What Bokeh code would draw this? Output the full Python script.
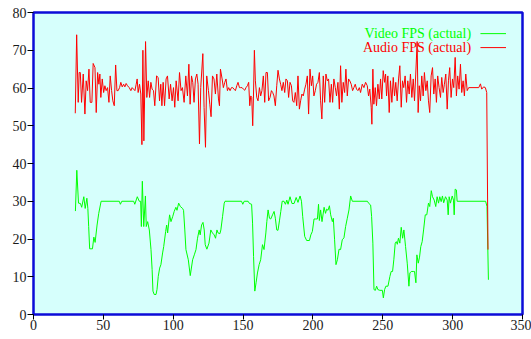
from bokeh.plotting import figure
from bokeh.models import Range1d, Label
from bokeh.embed import file_html
from bokeh.resources import INLINE

# ---- data ----
video_t = [30.0, 31.0, 32.2, 33.6, 34.5, 36.0, 37.0, 38.2, 38.9, 39.5, 40.2, 42.2, 43.2, 44.1, 45.5, 46.7, 48.4,
           61.4, 62.2, 63.2, 71.7, 72.5, 74.3, 75.7, 76.7, 77.2, 77.9, 78.9, 80.1, 80.7, 81.7, 82.9, 84.1, 84.9,
           85.5, 86.4, 87.7, 88.4, 89.3, 90.3, 91.2, 92.4, 93.2, 94.6, 95.3, 96.0, 97.4, 98.4, 99.6, 100.7, 101.9,
           102.7, 103.9, 105.1, 106.7, 107.4, 108.3, 109.1, 110.8, 112.2, 113.9, 115.1, 116.3, 117.4, 118.6, 119.3,
           120.3, 121.3, 122.2, 122.9, 124.1, 125.6, 126.9, 128.1, 129.3, 130.3, 131.3, 132.1, 133.4, 134.1, 135.3,
           136.5, 137.1, 148.9, 149.8, 150.8, 153.6, 154.6, 156.1, 156.8, 157.5, 158.4, 159.3, 160.3, 161.5, 162.6,
           163.9, 165.0, 166.3, 167.0, 167.9, 168.9, 169.8, 171.1, 172.2, 173.1, 174.1, 175.0, 176.1, 177.0, 178.0,
           179.3, 180.3, 181.3, 182.2, 183.6, 185.0, 186.5, 188.0, 189.3, 190.8, 191.8, 192.7, 194.1, 195.5, 197.5,
           198.5, 199.6, 200.8, 202.0, 203.2, 204.0, 204.6, 205.5, 206.5, 208.0, 209.0, 209.8, 210.8, 211.8, 212.7,
           213.9, 214.6, 215.5, 216.5, 217.5, 218.7, 219.8, 221.0, 222.2, 223.4, 224.6, 225.8, 227.0, 228.2, 239.0,
           240.0, 241.3, 242.0, 242.9, 243.7, 244.7, 245.6, 246.5, 247.9, 249.7, 250.4, 251.3, 252.2, 253.7, 255.1,
           256.0, 257.0, 257.9, 258.9, 259.7, 260.4, 261.2, 262.2, 263.2, 264.2, 265.1, 266.3, 267.5, 268.7, 269.4,
           270.4, 271.8, 272.7, 273.7, 274.4, 275.4, 276.3, 277.2, 278.2, 279.2, 280.4, 281.5, 282.7, 283.6, 284.7,
           285.6, 286.8, 287.9, 288.9, 289.9, 290.8, 291.8, 292.7, 293.6, 294.9, 296.1, 296.8, 297.5, 298.4, 299.7,
           300.6, 301.1, 301.8, 302.7, 303.2, 323.6, 324.6, 325.6]
video_fps = [27.4, 38.2, 29.5, 29.4, 28.4, 31.2, 28.1, 30.8, 28.1, 23.3, 17.4, 17.4, 20.5, 19.1, 23.7, 26.8, 30.0,
             30.0, 29.2, 30.0, 30.0, 29.2, 31.2, 30.0, 30.0, 23.3, 35.3, 23.3, 31.4, 23.3, 24.6, 22.4, 17.2, 11.9,
             6.2, 5.3, 5.3, 6.6, 10.1, 12.3, 13.2, 16.3, 18.0, 22.0, 23.7, 21.6, 26.4, 24.6, 25.9, 27.3, 28.4,
             27.6, 29.5, 28.6, 28.1, 27.6, 22.4, 17.2, 14.5, 10.3, 14.5, 15.8, 17.2, 20.2, 22.4, 21.1,
             23.7, 24.4, 22.4, 18.5, 17.3, 18.9, 22.4, 21.6, 21.1, 20.2, 22.4, 21.6, 21.4, 22.4, 25.9,
             29.5, 30.0, 30.0, 29.2, 30.0, 30.0, 29.4, 29.2, 24.2, 15.4, 6.2, 8.4, 11.0, 13.2, 14.5,
             18.5, 17.2, 21.6, 24.6, 27.7, 25.5, 25.3, 26.4, 27.3, 25.5, 22.4, 22.3, 25.0, 27.3, 30.0,
             30.0, 29.2, 30.3, 29.2, 31.2, 29.4, 29.4, 31.0, 29.7, 31.4, 30.0, 25.9, 20.7, 19.6, 19.6,
             21.1, 22.0, 25.3, 25.3, 25.3, 29.2, 24.9, 27.7, 24.6, 28.4, 26.8, 27.9, 27.6, 28.8, 26.4,
             24.6, 25.5, 19.8, 13.2, 14.5, 17.3, 17.2, 19.8, 20.3, 23.3, 25.5, 27.7, 31.4, 30.0, 30.0,
             29.4, 29.0, 26.0, 18.9, 6.6, 6.4, 7.5, 6.6, 6.4, 6.4, 4.4, 6.6, 7.5, 7.5, 10.1,
             11.4, 11.4, 14.5, 18.9, 19.3, 18.6, 20.2, 18.9, 23.1, 20.2, 22.4, 18.0, 13.6, 7.5, 11.0,
             11.4, 11.4, 11.4, 8.4, 15.8, 13.6, 15.2, 18.0, 19.3, 22.4, 26.4, 26.4, 29.5, 28.6, 32.8,
             31.2, 30.3, 28.6, 31.2, 29.5, 31.2, 29.9, 31.4, 29.6, 31.2, 30.3, 26.4, 31.2, 29.5, 31.4,
             30.3, 26.4, 33.2, 33.0, 30.0, 30.0, 28.6, 9.2]

audio_t = [29.9, 30.9, 32.0, 32.7, 33.5, 34.4, 35.6, 36.8, 37.7, 38.7, 39.7, 40.6, 41.8, 42.7, 44.0, 44.9, 45.9,
           46.8, 47.5, 48.2, 49.2, 50.2, 51.1, 52.0, 53.0, 54.0, 54.9, 55.9, 56.8, 57.8, 58.8, 59.7, 60.6, 61.6,
           62.5, 63.5, 64.5, 65.4, 66.3, 67.3, 68.5, 69.7, 70.6, 71.6, 72.6, 73.5, 74.2, 74.9, 75.9, 76.8, 77.6,
           78.3, 79.0, 80.2, 81.1, 82.1, 83.1, 84.0, 84.9, 85.9, 86.8, 88.1, 89.2, 90.2, 91.1, 91.9, 92.8, 93.8,
           94.9, 95.9, 97.1, 98.1, 99.2, 100.2, 101.1, 102.1, 103.5, 104.5,
           105.6, 106.6, 107.8, 109.0, 110.2, 111.2, 112.1, 113.1, 114.0, 114.9, 115.9, 116.9, 117.8, 118.8, 119.7,
           121.2, 122.1, 123.1, 124.0, 125.2, 126.2, 127.1, 128.1, 129.2, 130.2, 131.2, 132.4, 133.1, 133.8, 135.0,
           135.9, 136.9, 137.8, 138.8, 139.7, 140.7, 141.7, 142.6, 143.5, 144.5, 145.5, 146.4, 147.4, 148.3, 149.3,
           150.2, 151.2, 152.1, 153.1, 154.0, 154.8, 155.5, 156.2, 156.9, 157.4, 158.1, 158.8, 159.8, 160.7, 161.7,
           162.6, 163.5, 164.5, 165.5, 166.4, 167.4, 168.3, 169.3, 170.3, 171.2, 172.1, 173.1, 174.1, 175.0, 176.0,
           176.9, 177.8, 178.8, 179.8, 180.7, 181.7, 182.6, 183.6, 184.6, 185.5, 186.4, 187.4, 188.4, 189.3, 190.3,
           191.2, 192.1, 193.1, 194.1, 195.0, 196.0, 196.9, 197.9, 198.9, 199.8, 200.7, 201.7, 202.6, 203.6, 204.6,
           205.5, 206.4, 207.4, 208.4, 209.3, 210.3, 211.2, 212.2, 213.2, 214.1, 215.0, 216.0, 216.9, 217.9, 218.9,
           219.8, 220.7, 221.7, 222.7, 223.6, 224.6, 225.5, 226.4, 227.4, 228.4, 229.3, 230.3, 231.2, 232.2, 233.2,
           234.1, 235.3, 236.5, 237.7, 238.9, 239.8, 240.7, 241.7, 242.2, 242.9, 243.6, 244.6, 245.5, 246.5, 247.5,
           248.4, 249.3, 250.3, 251.3, 252.0, 252.7, 253.6, 254.6, 255.5, 256.5, 257.5, 258.4, 259.3, 260.3, 261.3,
           262.2, 263.2, 264.1, 265.0, 266.0, 267.0, 267.9, 268.9, 269.8, 270.8, 271.8, 272.7, 273.6, 274.6, 275.3,
           276.1, 277.0, 277.9, 278.9, 279.8, 280.8, 281.8, 282.7, 283.6, 284.6, 285.6, 286.5, 287.5, 288.4, 289.3,
           290.3, 291.3, 292.2, 293.2, 294.1, 295.1, 296.1, 297.0, 297.9, 298.9, 299.9, 300.8, 301.8, 302.7, 303.6,
           304.6, 305.6, 306.5, 307.5, 308.4, 309.4, 310.4, 311.5, 318.7, 319.9, 320.8, 322.2, 323.4, 324.4, 325.3]
audio_fps = [53.3, 74.1, 56.2, 64.1, 64.1, 56.2, 63.7, 53.1, 61.9, 59.3, 65.0, 56.2, 56.2, 66.5, 65.4, 53.5, 64.1,
             61.0, 63.7, 57.5, 62.4, 58.8, 60.6, 59.3, 60.1, 56.2, 63.2, 59.3, 56.6, 55.3, 66.1, 59.3, 59.3, 60.1,
             61.5, 60.3, 61.0, 60.3, 61.2, 60.6, 60.1, 59.3, 60.1, 59.7, 59.3, 61.0, 62.4, 58.8, 61.0, 58.4, 45.0,
             70.0, 46.0, 72.3, 57.5, 61.9, 57.5, 61.5, 59.7, 59.3, 55.3, 63.2, 62.8, 56.6, 61.0, 55.3, 61.5, 55.3,
             62.4, 63.2, 57.1, 61.0, 56.6, 60.1, 54.9, 61.9, 56.6, 64.1,
             59.3, 60.1, 56.2, 63.2, 57.9, 66.3, 55.7, 63.2, 61.5, 56.2, 62.4, 63.7, 61.0, 45.2, 60.1,
             69.1, 54.8, 44.3, 63.2, 59.3, 55.7, 52.4, 63.2, 62.4, 58.4, 63.7, 57.1, 55.3, 65.0, 62.4,
             60.1, 61.5, 62.4, 59.3, 60.1, 59.3, 60.1, 60.1, 59.7, 59.3, 60.6, 61.5, 60.1, 60.1, 60.1,
             59.7, 59.4, 60.1, 60.6, 61.5, 55.3, 57.9, 57.5, 50.0, 57.1, 70.0, 61.9, 57.5, 56.6, 60.1,
             57.9, 59.3, 63.2, 56.2, 64.1, 64.1, 56.6, 57.5, 59.3, 58.8, 57.9, 55.3, 60.6, 64.7, 62.4,
             61.0, 59.3, 61.5, 58.8, 62.4, 61.9, 57.5, 61.5, 60.6, 56.6, 56.2, 58.8, 55.3, 63.2, 54.4,
             56.6, 58.4, 57.9, 59.7, 61.0, 63.2, 53.1, 65.0, 60.6, 63.2, 57.9, 59.3, 61.0, 61.5, 64.1,
             56.6, 51.8, 63.2, 56.2, 63.7, 61.9, 62.4, 56.2, 61.0, 56.2, 62.4, 60.1, 57.9, 61.5, 54.4,
             65.9, 56.2, 61.5, 58.8, 65.0, 57.9, 62.4, 61.9, 61.0, 59.3, 60.1, 61.0, 59.7, 59.3, 60.1,
             58.8, 61.0, 60.1, 61.5, 60.6, 57.9, 59.7, 54.9, 50.4, 65.0, 55.7, 60.1, 55.3, 61.0, 57.1,
             62.4, 57.1, 64.6, 61.5, 63.7, 57.9, 63.2, 53.5, 61.9, 56.2, 62.8, 57.9, 61.5, 56.6, 62.4,
             65.9, 54.9, 61.9, 60.1, 63.2, 56.2, 61.9, 58.4, 63.7, 57.5, 62.4, 56.6, 63.7, 72.3, 53.5,
             60.6, 56.6, 63.2, 57.9, 64.1, 59.3, 61.9, 56.6, 53.5, 63.2, 65.4, 58.4, 62.4, 56.2, 63.2,
             60.1, 57.5, 62.8, 58.8, 61.0, 63.7, 54.4, 61.9, 65.4, 57.5, 62.4, 60.1, 68.1, 57.9, 63.2,
             59.7, 66.3, 58.8, 61.9, 57.9, 63.7, 59.3, 60.1, 60.1, 61.1, 59.7, 60.3, 60.1, 58.8, 17.2]

x_ticks = [0, 50, 100, 150, 200, 250, 300, 350]
y_ticks = [0, 10, 20, 30, 40, 50, 60, 70, 80]
series_names = ["Video FPS (actual)", "Audio FPS (actual)"]
series_colors = ["#00ff00", "#ff0000"]

FONT = "Liberation Serif"

p = figure(width=531, height=339, output_backend="svg", toolbar_location=None,
           x_range=Range1d(0, 350), y_range=Range1d(0, 80),
           min_border_left=33, min_border_right=9, min_border_top=12, min_border_bottom=25)

p.background_fill_color = "#d6fffc"
p.border_fill_color = "white"
p.outline_line_color = "#0c0cd8"
p.outline_line_width = 2.5
p.grid.visible = False

p.xaxis.ticker = x_ticks
p.yaxis.ticker = y_ticks
for ax in (p.xaxis, p.yaxis):
    ax.axis_line_color = None
    ax.minor_tick_line_color = None
    ax.major_tick_line_color = "black"
    ax.major_tick_in = 0
    ax.major_label_text_font = FONT
    ax.major_label_text_font_size = "14px"
    ax.major_label_text_color = "#1a1a1a"
p.xaxis.major_tick_out = 5
p.xaxis.major_label_standoff = 0
p.yaxis.major_tick_out = 6
p.yaxis.major_label_standoff = 1

p.line(video_t, video_fps, line_color=series_colors[0], line_width=1)
p.line(audio_t, audio_fps, line_color=series_colors[1], line_width=1)

# gnuplot-style key: text right-aligned, sample line to its right
KEY_TEXT_X = 313.2
KEY_LINE_X0, KEY_LINE_X1 = 319.9, 338.2
KEY_ROWS_Y = [74.4, 70.7]
for name, color, ky in zip(series_names, series_colors, KEY_ROWS_Y):
    p.add_layout(Label(x=KEY_TEXT_X, y=ky, text=name, text_align="right", text_baseline="middle",
                       text_font=FONT, text_font_size="14px", text_color=color))
    p.segment(x0=[KEY_LINE_X0], x1=[KEY_LINE_X1], y0=[ky], y1=[ky], line_color=color, line_width=1)

open("out.html", "w").write(file_html(p, INLINE))
